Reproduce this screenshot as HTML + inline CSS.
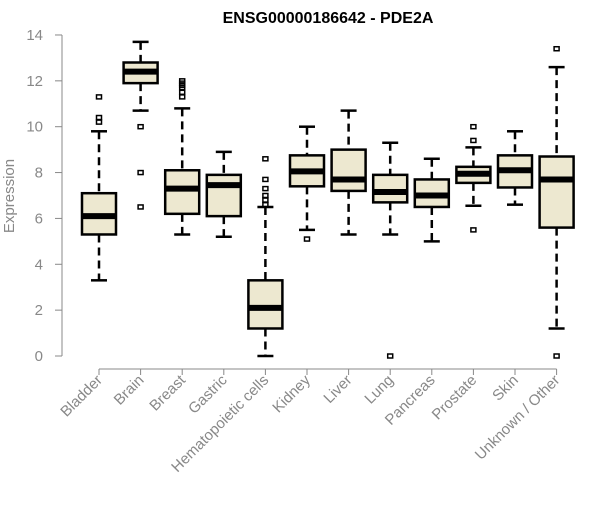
<!DOCTYPE html>
<html><head><meta charset="utf-8"><style>
body{margin:0;background:#fff;font-family:"Liberation Sans",sans-serif}
</style></head><body>
<svg id="chart" width="600" height="500" xmlns="http://www.w3.org/2000/svg">
<text x="328" y="23" text-anchor="middle" font-size="16" font-weight="bold" fill="#000">ENSG00000186642 - PDE2A</text>
<text transform="translate(14,196) rotate(-90)" text-anchor="middle" font-size="15" fill="#888">Expression</text>
<g id="axes"></g><g id="boxes"></g>
</svg>
<script>
const categories=["Bladder","Brain","Breast","Gastric","Hematopoietic cells","Kidney","Liver","Lung","Pancreas","Prostate","Skin","Unknown / Other"];
const whiskerLow=[3.3,10.7,5.3,5.2,0.0,5.5,5.3,5.3,5.0,6.55,6.6,1.2];
const q1=[5.3,11.9,6.2,6.1,1.2,7.4,7.2,6.7,6.5,7.55,7.35,5.6];
const median=[6.1,12.4,7.3,7.45,2.1,8.05,7.7,7.15,7.0,7.95,8.1,7.7];
const q3=[7.1,12.8,8.1,7.9,3.3,8.75,9.0,7.9,7.7,8.25,8.75,8.7];
const whiskerHigh=[9.8,13.7,10.8,8.9,6.5,10.0,10.7,9.3,8.6,9.1,9.8,12.6];
const outliers=[[10.2,10.4,11.3],[10.0,8.0,6.5],[11.3,11.5,11.7,11.8,11.9,12.0],[],[6.6,6.8,7.0,7.3,7.7,8.6],[5.1],[],[0],[],[9.4,10.0,5.5],[],[0,13.4]];
const yTicks=[0,2,4,6,8,10,12,14];
const NS="http://www.w3.org/2000/svg";
const y=v=>356-v*22.93;
const x=i=>99+i*41.6;
function mk(tag,attrs,parent){const e=document.createElementNS(NS,tag);for(const k in attrs)e.setAttribute(k,attrs[k]);parent.appendChild(e);return e;}
const ax=document.getElementById('axes'),bx=document.getElementById('boxes');
let l=mk('line',{x1:62,x2:62,y1:y(0),y2:y(14),stroke:'#888'},ax);


yTicks.forEach(t=>{
 const tk=mk('line',{x1:55,x2:62,y1:y(t),y2:y(t),stroke:'#888'},ax);
 
 
 const tx=mk('text',{x:43,y:y(t)+5,'text-anchor':'end','font-size':15,fill:'#888'},ax);
 tx.textContent=t;
 
 
});
l=mk('line',{x1:x(0),x2:x(categories.length-1),y1:369,y2:369,stroke:'#888'},ax);


categories.forEach((c,i)=>{
 const cx=x(i),w=17;
 const tk=mk('line',{x1:cx,x2:cx,y1:369,y2:375,stroke:'#888'},ax);
 
 
 const tx=mk('text',{transform:`translate(${cx+4},${381}) rotate(-45)`,'text-anchor':'end','font-size':15,fill:'#888'},ax);
 tx.textContent=c;
 
 
 const g=mk('g',{},bx);
 
 
 mk('line',{x1:cx,x2:cx,y1:y(whiskerHigh[i]),y2:y(q3[i]),stroke:'#000','stroke-width':2.5,'stroke-dasharray':'8,5'},g);
 mk('line',{x1:cx,x2:cx,y1:y(q1[i]),y2:y(whiskerLow[i]),stroke:'#000','stroke-width':2.5,'stroke-dasharray':'8,5'},g);
 mk('line',{x1:cx-8,x2:cx+8,y1:y(whiskerHigh[i]),y2:y(whiskerHigh[i]),stroke:'#000','stroke-width':2.5},g);
 mk('line',{x1:cx-8,x2:cx+8,y1:y(whiskerLow[i]),y2:y(whiskerLow[i]),stroke:'#000','stroke-width':2.5},g);
 mk('rect',{x:cx-w,y:y(q3[i]),width:2*w,height:y(q1[i])-y(q3[i]),fill:'#ede8d0',stroke:'#000','stroke-width':2.5},g);
 mk('line',{x1:cx-w,x2:cx+w,y1:y(median[i]),y2:y(median[i]),stroke:'#000','stroke-width':6},g);
 outliers[i].forEach(o=>{mk('rect',{x:cx-2.5,y:y(o)-2,width:5,height:4,fill:'none',stroke:'#000','stroke-width':1.5},g);});
});
</script>
</body></html>
